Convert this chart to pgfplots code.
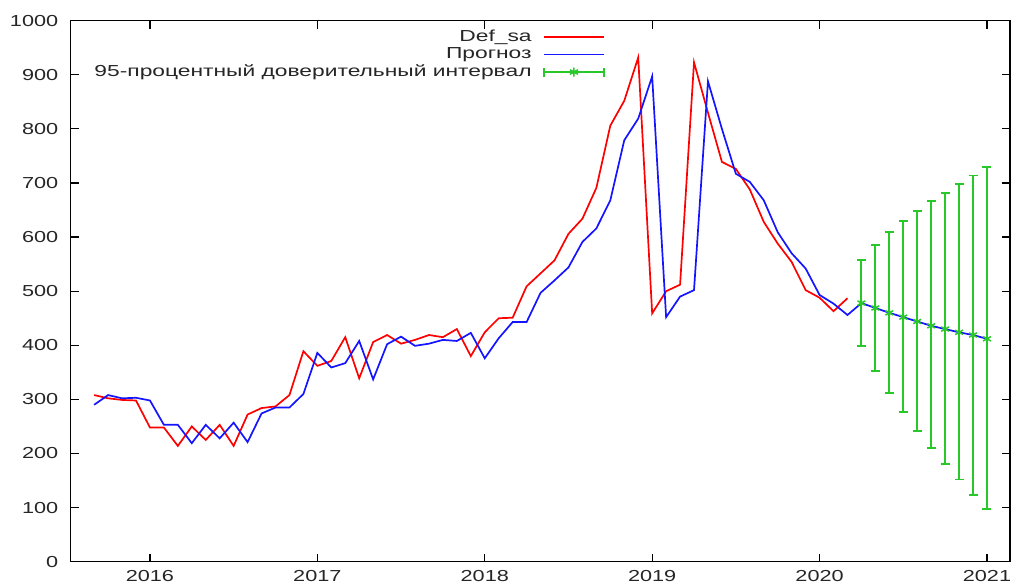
\documentclass[border=0pt]{standalone}
\usepackage{fontspec}
\setmainfont{Liberation Sans}[FakeStretch=1.36]
\newfontfamily\legfont{Liberation Sans}[FakeStretch=1.43]
\usepackage{pgfplots}
\pgfplotsset{compat=1.18}
\definecolor{gpred}{RGB}{255,0,0}
\definecolor{gpblue}{RGB}{20,20,255}
\definecolor{gpgreen}{RGB}{40,200,40}
\begin{document}
\begin{tikzpicture}
\begin{axis}[
  name=ax,
  scale only axis,
  width=939.3bp, height=541bp,
  xmin=-5.68, xmax=61.65,
  ymin=0, ymax=1000,
  xtick={0,12,24,36,48,60},
  xticklabels={2016,2017,2018,2019,2020,2021},
  ytick={0,100,...,1000},
  tick align=inside,
  major tick length=8bp,
  axis line style={line width=1.4bp},
  every tick/.style={black, line width=1.2bp},
  /pgf/number format/assume math mode=true,
  /pgf/number format/1000 sep={},
  tick label style={font=\fontsize{16}{18}\selectfont, text=black!85},
  yticklabel style={xshift=-9bp},
  xticklabel style={yshift=-5bp},
  unbounded coords=jump,
  legend plot pos=right,
  legend cell align=right,
  legend style={draw=none, fill=none, at={(0.572,0.99)}, anchor=north east,
     font=\legfont\fontsize{16}{18}\selectfont, row sep=0bp, column sep=10bp,
     nodes={inner sep=1.5bp, text height=11.5bp, text depth=3bp, text=black!85}},
  legend image code/.code={\draw[#1] (0bp,0bp) -- (60bp,0bp);},
]
\addplot[gpred, line width=1.7bp] coordinates {
(-4,308) (-3,302) (-2,299) (-1,298) (0,248) (1,248) (2,214) (3,250) (4,225) (5,253) (6,214) (7,272) (8,284) (9,287) (10,308) (11,389) (12,362) (13,371) (14,415) (15,339) (16,406) (17,419) (18,403) (19,410) (20,419) (21,415) (22,430) (23,380) (24,424) (25,450) (26,451) (27,509) (28,533) (29,557) (30,606) (31,634) (32,691) (33,806) (34,852) (35,932) (36,459) (37,500) (38,512) (39,923) (40,830) (41,739) (42,726) (43,688) (44,628) (45,588) (46,554) (47,502) (48,488) (49,463) (50,487)
};
\addlegendentry{Def\_sa}
\addplot[gpblue, line width=1.7bp] coordinates {
(-4,290) (-3,308) (-2,302) (-1,303) (0,298) (1,253) (2,253) (3,219) (4,253) (5,228) (6,257) (7,221) (8,274) (9,285) (10,285) (11,310) (12,386) (13,359) (14,367) (15,408) (16,337) (17,402) (18,416) (19,399) (20,403) (21,410) (22,408) (23,423) (24,376) (25,413) (26,443) (27,443) (28,497) (29,520) (30,544) (31,591) (32,616) (33,668) (34,779) (35,819) (36,897) (37,452) (38,490) (39,502) (40,888) (41,800) (42,717) (43,702) (44,668) (45,609) (46,570) (47,542) (48,493) (49,477) (50,456) (51,478) (52,469) (53,460) (54,452) (55,444) (56,436) (57,430) (58,424) (59,419) (60,412)
};
\addlegendentry{Прогноз}
% 95% interval: vertical bars (lower, upper) with jumps
\addplot[gpgreen, line width=2bp, forget plot] coordinates {
(51,398) (51,557) (51,nan)
(52,353) (52,586) (52,nan)
(53,312) (53,610) (53,nan)
(54,276) (54,630) (54,nan)
(55,242) (55,648) (55,nan)
(56,210) (56,666) (56,nan)
(57,180) (57,682) (57,nan)
(58,152) (58,698) (58,nan)
(59,124) (59,714) (59,nan)
(60,97) (60,730)
};
% caps
\addplot[gpgreen, only marks, mark=-, mark size=4.5bp, line width=1.8bp, forget plot] coordinates {
(51,398) (51,557) (52,353) (52,586) (53,312) (53,610) (54,276) (54,630) (55,242) (55,648)
(56,210) (56,666) (57,180) (57,682) (58,152) (58,698) (59,124) (59,714) (60,97) (60,730)
};
% point forecasts
\addplot[gpgreen, only marks, mark=asterisk, mark size=4.5bp, line width=1.5bp,
  legend image code/.code={
    \draw[gpgreen, line width=1.6bp] (0bp,0bp) -- (60bp,0bp);
    \draw[gpgreen, line width=1.6bp] (0bp,-4.5bp) -- (0bp,4.5bp);
    \draw[gpgreen, line width=1.6bp] (60bp,-4.5bp) -- (60bp,4.5bp);
    \draw[gpgreen, line width=1.5bp] plot[mark=asterisk, mark size=4.5bp] coordinates {(30bp,0bp)};
  }] coordinates {
(51,478) (52,469) (53,460) (54,452) (55,444) (56,436) (57,430) (58,424) (59,419) (60,412)
};
\addlegendentry{95-процентный доверительный интервал}
\end{axis}
\path (ax.south west) ++(-70.7bp,-24.3bp) coordinate (bbA);
\path (ax.north east) ++(5bp,20.7bp) coordinate (bbB);
\useasboundingbox (bbA) rectangle (bbB);
\end{tikzpicture}
\end{document}
